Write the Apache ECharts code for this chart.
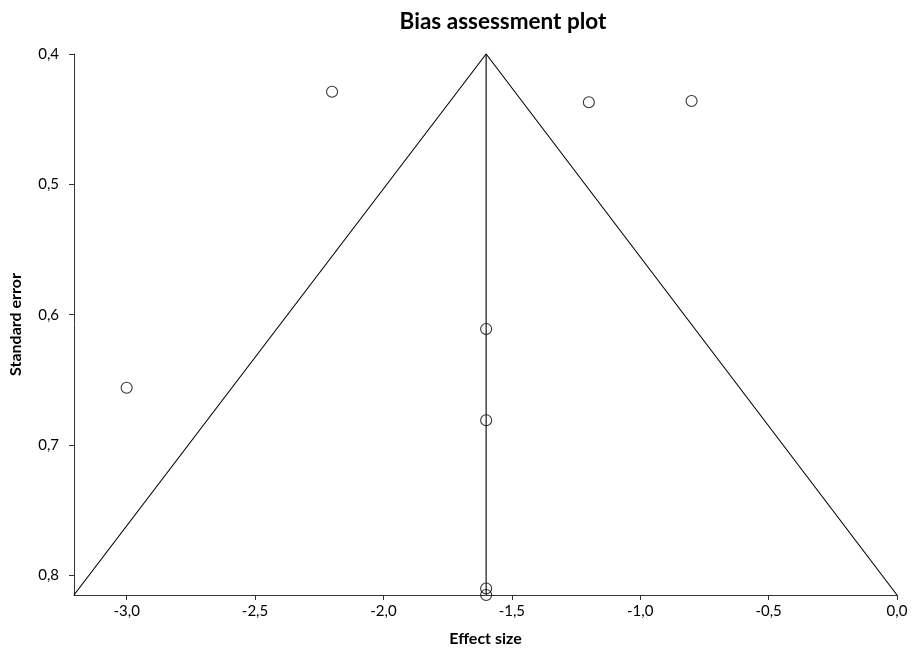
<!DOCTYPE html>
<html><head><meta charset="utf-8">
<script src="https://cdn.jsdelivr.net/npm/echarts@6/dist/echarts.min.js"></script>
<style>html,body{margin:0;padding:0;background:#fff}#c{width:913px;height:654px}</style>
</head><body><div id="c"></div>
<script>
const effectSize = [-2.2, -1.2, -0.8, -1.6, -3.0, -1.6, -1.6, -1.6];
const standardError = [0.429, 0.437, 0.436, 0.611, 0.656, 0.681, 0.810, 0.815];
const funnelX = [-3.205, -1.6, 0.0];
const funnelY = [0.815, 0.4, 0.815];
const centerX = [-1.6, -1.6];
const centerY = [0.4, 0.815];
const xTicks = [-3.0, -2.5, -2.0, -1.5, -1.0, -0.5, 0.0];
const yTicks = [0.4, 0.5, 0.6, 0.7, 0.8];

const FONT = 'Lato';
const fmt = v => Number(v).toFixed(1).replace('.', ',');
const chart = echarts.init(document.getElementById('c'));
chart.setOption({
  animation: false,
  backgroundColor: '#fff',
  title: { text: 'Bias assessment plot', left: 498, textAlign: 'center', top: 5,
    textStyle: { fontFamily: FONT, fontWeight: 'bold', fontSize: 22.5, color: '#000' } },
  grid: { left: 73, right: 16, top: 54, bottom: 59 },
  xAxis: {
    type: 'value', min: -3.205, max: 0, splitLine: { show: false },
    name: 'Effect size', nameLocation: 'middle', nameGap: 36,
    nameTextStyle: { fontFamily: FONT, fontWeight: 'bold', fontSize: 16, color: '#000' },
    axisLine: { onZero: false, lineStyle: { color: '#333', width: 1 } },
    axisTick: { customValues: xTicks, length: 5, lineStyle: { color: '#333' } },
    axisLabel: { customValues: xTicks, formatter: fmt, fontFamily: FONT, fontSize: 15, color: '#000', margin: 9 }
  },
  yAxis: {
    type: 'value', inverse: true, min: 0.4, max: 0.815, splitLine: { show: false },
    name: 'Standard error', nameLocation: 'middle', nameGap: 50, nameRotate: 90,
    nameTextStyle: { fontFamily: FONT, fontWeight: 'bold', fontSize: 16, color: '#000' },
    axisLine: { onZero: false, lineStyle: { color: '#333', width: 1 } },
    axisTick: { customValues: yTicks, length: 5, lineStyle: { color: '#333' } },
    axisLabel: { customValues: yTicks, formatter: fmt, fontFamily: FONT, fontSize: 15, color: '#000', margin: 15 }
  },
  series: [
    { type: 'line', data: funnelX.map((x, i) => [x, funnelY[i]]), symbol: 'none',
      lineStyle: { color: '#000', width: 1.1 }, silent: true, clip: false },
    { type: 'line', data: centerX.map((x, i) => [x, centerY[i]]), symbol: 'none',
      lineStyle: { color: '#000', width: 1.1 }, silent: true, clip: false },
    { type: 'scatter', data: effectSize.map((x, i) => [x, standardError[i]]), symbol: 'circle',
      symbolSize: 11, clip: false,
      itemStyle: { color: 'rgba(255,255,255,0)', borderColor: '#000', borderWidth: 1.1 } }
  ]
});
</script></body></html>
